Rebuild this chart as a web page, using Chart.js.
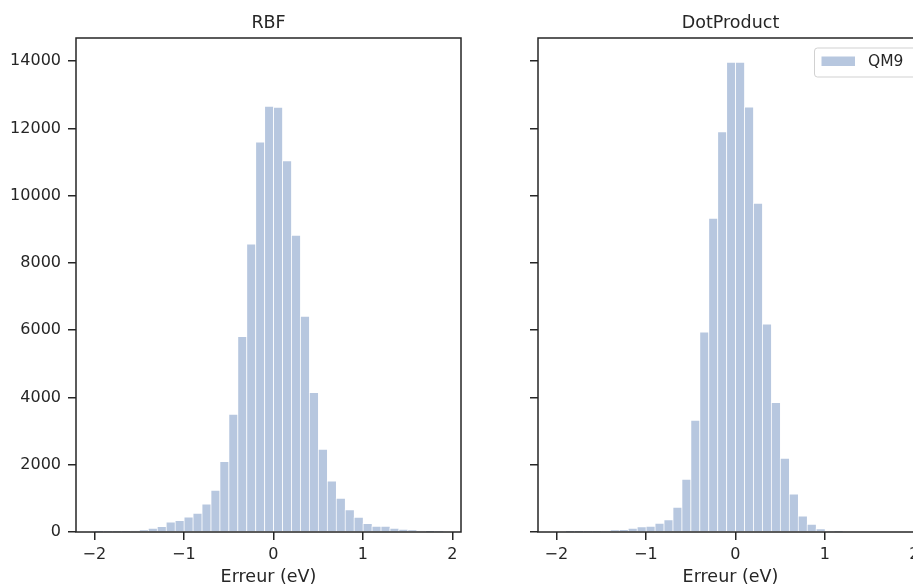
<!DOCTYPE html>
<html>
<head>
<meta charset="utf-8">
<script src="https://cdn.jsdelivr.net/npm/chart.js@4.4.1/dist/chart.umd.min.js"></script>
<style>
  html, body { margin: 0; padding: 0; background: #fff; overflow: hidden; width: 913px; height: 586px; }
  .panel { position: absolute; top: 0; width: 470px; height: 586px; }
</style>
</head>
<body>
<div class="panel" style="left:0px"><canvas id="rbf"></canvas></div>
<div class="panel" style="left:462px"><canvas id="dot"></canvas></div>
<script>
// Histogram bins (width 0.1 eV), given by their centres
const binCenters = [
  -1.95, -1.85, -1.75, -1.65, -1.55, -1.45, -1.35, -1.25, -1.15, -1.05,
  -0.95, -0.85, -0.75, -0.65, -0.55, -0.45, -0.35, -0.25, -0.15, -0.05,
   0.05,  0.15,  0.25,  0.35,  0.45,  0.55,  0.65,  0.75,  0.85,  0.95,
   1.05,  1.15,  1.25,  1.35,  1.45,  1.55,  1.65,  1.75,  1.85
];

// Error counts per bin, RBF kernel
const rbfCounts = [
  2, 4, 8, 15, 30, 55, 120, 170, 300, 350,
  450, 565, 840, 1245, 2100, 3510, 5815, 8570, 11600, 12663,
  12634, 11046, 8829, 6421, 4150, 2467, 1525, 1010, 663, 446,
  256, 178, 178, 119, 89, 60, 30, 12, 4
];

// Error counts per bin, DotProduct kernel
const dotCounts = [
  0, 1, 2, 4, 10, 25, 60, 80, 120, 160,
  178, 268, 367, 743, 1575, 3330, 5954, 9334, 11909, 13971,
  13971, 12643, 9780, 6192, 3853, 2200, 1138, 484, 238, 98,
  20, 5, 0, 0, 0, 0, 0, 0, 0
];

const panelTitles = ['RBF', 'DotProduct'];
const seriesLabel = 'QM9';
const xAxisTitle = 'Erreur (eV)';
const xTicks = [-2, -1, 0, 1, 2];
const yTicks = [0, 2000, 4000, 6000, 8000, 10000, 12000, 14000];

const INK = '#262626';
const FONT = "'DejaVu Sans', sans-serif";
const BAR_FILL = 'rgba(76, 114, 176, 0.4)';
const BAR_EDGE = 'rgba(255, 255, 255, 0.6)';

const minus = v => (v < 0 ? '\u2212' + Math.abs(v) : String(v));

// Box around the whole plotting area (all four spines)
const framePlugin = {
  id: 'frame',
  afterDatasetsDraw(chart) {
    const a = chart.chartArea, ctx = chart.ctx;
    ctx.save();
    ctx.strokeStyle = INK;
    ctx.lineWidth = 1.5;
    ctx.strokeRect(a.left, a.top, a.right - a.left, a.bottom - a.top);
    ctx.restore();
  }
};

// Legend drawn inside the upper-right corner of the plotting area
const innerLegendPlugin = {
  id: 'innerLegend',
  afterDraw(chart, args, opts) {
    if (!opts || !opts.show) return;
    const a = chart.chartArea, ctx = chart.ctx;
    const ds = chart.data.datasets[0];
    const x0 = a.right - 109, y0 = a.top + 9.5, w = 102, h = 29;
    ctx.save();
    ctx.fillStyle = 'rgba(255,255,255,0.8)';
    ctx.strokeStyle = 'rgba(204,204,204,0.9)';
    ctx.lineWidth = 1;
    ctx.beginPath();
    ctx.roundRect(x0 + 0.5, y0 + 0.5, w, h, 3);
    ctx.fill();
    ctx.stroke();
    ctx.fillStyle = ds.backgroundColor;
    ctx.fillRect(x0 + 7.5, y0 + 9, 33.5, 9.5);
    ctx.fillStyle = INK;
    ctx.font = '15.5px ' + FONT;
    ctx.textBaseline = 'middle';
    ctx.textAlign = 'left';
    ctx.fillText(ds.label, x0 + 54, y0 + 14.5);
    ctx.restore();
  }
};

function makePanel(canvasId, title, counts, showYLabels, showLegend) {
  const points = binCenters.map((c, i) => ({ x: c, y: counts[i] }));
  return new Chart(document.getElementById(canvasId), {
    type: 'bar',
    data: {
      datasets: [{
        label: seriesLabel,
        data: points,
        backgroundColor: BAR_FILL,
        borderColor: BAR_EDGE,
        borderWidth: { left: 1, top: 1, right: 0, bottom: 0 },
        borderSkipped: false,
        barPercentage: 1.0,
        categoryPercentage: 1.0,
        grouped: false
      }]
    },
    options: {
      responsive: true,
      maintainAspectRatio: false,
      animation: false,
      layout: { padding: { left: 0, right: 9, top: 0, bottom: 0 } },
      plugins: {
        legend: { display: false },
        tooltip: { enabled: false },
        title: {
          display: true,
          text: title,
          fullSize: false,
          color: INK,
          font: { family: FONT, size: 17.5, weight: 'normal' },
          padding: { top: 13, bottom: 4 }
        },
        innerLegend: { show: showLegend }
      },
      scales: {
        x: {
          type: 'linear',
          min: -2.205,
          max: 2.097,
          offset: false,
          afterBuildTicks: s => { s.ticks = xTicks.map(v => ({ value: v })); },
          afterFit: s => { s.height = 54; },
          grid: { offset: false, drawOnChartArea: false, drawTicks: true, tickLength: 8, color: INK, lineWidth: 1.5 },
          border: { display: false },
          ticks: {
            color: INK,
            font: { family: FONT, size: 16 },
            padding: 5,
            maxRotation: 0,
            callback: v => minus(v)
          },
          title: {
            display: true,
            text: xAxisTitle,
            color: INK,
            font: { family: FONT, size: 17.5 },
            padding: { top: 0, bottom: -2 }
          }
        },
        y: {
          min: 0,
          max: 14690,
          afterBuildTicks: s => { s.ticks = yTicks.map(v => ({ value: v })); },
          afterFit: s => { s.width = 76; },
          grid: { offset: false, drawOnChartArea: false, drawTicks: true, tickLength: 8, color: INK, lineWidth: 1.5 },
          border: { display: false },
          ticks: {
            color: INK,
            font: { family: FONT, size: 16 },
            padding: 7,
            callback: v => (showYLabels ? String(v) : '')
          }
        }
      }
    },
    plugins: [framePlugin, innerLegendPlugin]
  });
}

makePanel('rbf', panelTitles[0], rbfCounts, true, false);
makePanel('dot', panelTitles[1], dotCounts, false, true);
</script>
</body>
</html>
